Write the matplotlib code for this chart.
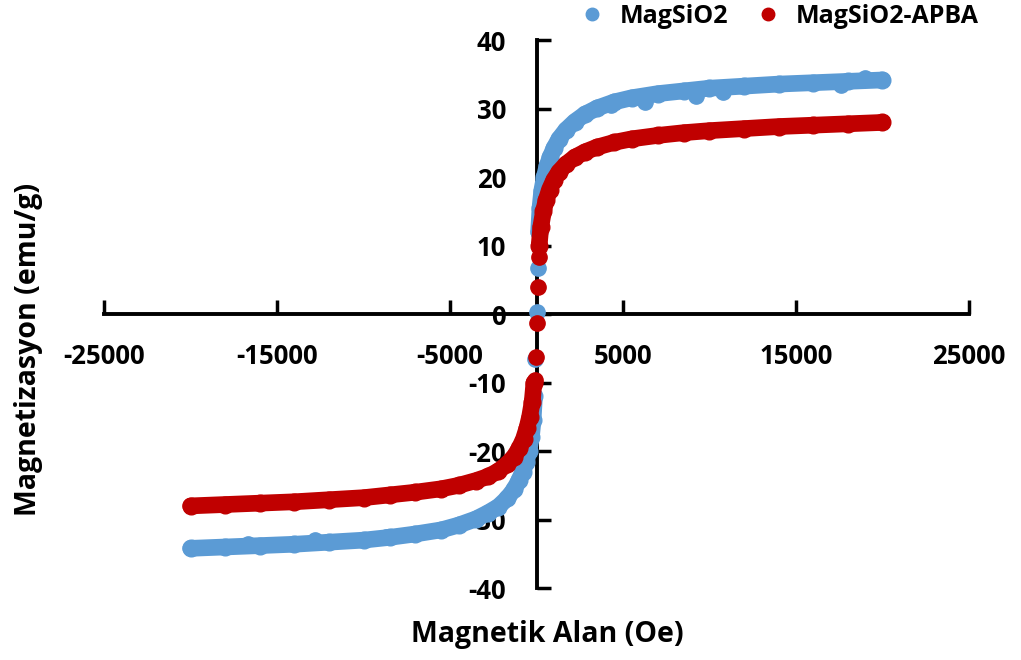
import matplotlib.pyplot as plt
from matplotlib.lines import Line2D

plt.rcParams['font.family'] = ['Open Sans', 'DejaVu Sans']
plt.rcParams['font.weight'] = 'bold'
plt.rcParams['axes.unicode_minus'] = False

# MagSiO2 (blue) - positive field branch
blue_x_pos = [120, 200, 300, 450, 600, 800, 1000, 1300, 1700, 2200, 2800, 3500, 4500,
              5500, 7000, 8500, 10000, 12000, 14000, 16000, 18000, 20000]
blue_y_pos = [12.0, 15.5, 18.0, 20.0, 21.6, 23.0, 24.2, 25.6, 26.9, 28.1, 29.2, 30.1, 31.0,
              31.6, 32.2, 32.6, 33.0, 33.3, 33.6, 33.8, 34.0, 34.2]
# MagSiO2 (blue) - negative field branch
blue_x_neg = [-120, -200, -300, -450, -600, -800, -1000, -1300, -1700, -2200, -2800, -3500, -4500,
              -5500, -7000, -8500, -10000, -12000, -14000, -16000, -18000, -20000]
blue_y_neg = [-12.0, -15.5, -18.0, -20.0, -21.6, -23.0, -24.2, -25.6, -26.9, -28.1, -29.0, -29.9, -30.8,
              -31.5, -32.1, -32.6, -33.0, -33.3, -33.6, -33.8, -34.0, -34.2]
# low field steps and stray points
blue_x_pts = [60, 0, -60, 6300, 9200, 10800, 17600, 19000, 4300, -8700, -12800, -16700]
blue_y_pts = [6.7, 0.3, -6.5, 31.0, 31.9, 32.4, 33.4, 34.5, 30.6, -32.6, -33.0, -33.6]

# MagSiO2-APBA (red) - positive field branch
red_x_pos = [150, 250, 400, 550, 750, 1000, 1300, 1700, 2200, 2800, 3500, 4500, 5500,
             7000, 8500, 10000, 12000, 14000, 16000, 18000, 20000]
red_y_pos = [10.0, 12.8, 15.0, 16.6, 18.2, 19.6, 20.8, 21.9, 22.9, 23.7, 24.4, 25.1, 25.6,
             26.1, 26.5, 26.8, 27.1, 27.4, 27.6, 27.8, 28.0]
# MagSiO2-APBA (red) - negative field branch
red_x_neg = [-150, -250, -400, -550, -750, -1000, -1300, -1700, -2200, -2800, -3500, -4500, -5500,
             -7000, -8500, -10000, -12000, -14000, -16000, -18000, -20000]
red_y_neg = [-10.0, -12.8, -15.0, -16.6, -18.2, -19.6, -20.8, -21.9, -22.9, -23.7, -24.3, -25.0, -25.5,
             -26.0, -26.4, -26.8, -27.1, -27.4, -27.6, -27.8, -28.0]
red_x_pts = [120, 60, 20, -40, -100]
red_y_pts = [8.3, 3.9, -1.3, -6.3, -9.6]

blue = '#5B9BD5'
red = '#C00000'

fig = plt.figure(figsize=(10.21, 6.6), dpi=100)
ax = fig.add_axes([0.102, 0.109, 0.847, 0.830])

# each curve: thick band through the measured points, plus the loose low-field points
for xs, ys, c, z in [(blue_x_pos, blue_y_pos, blue, 2), (blue_x_neg, blue_y_neg, blue, 2),
                     (red_x_pos, red_y_pos, red, 3), (red_x_neg, red_y_neg, red, 3)]:
    ax.plot(xs, ys, '-o', color=c, lw=12, ms=12, solid_capstyle='round',
            solid_joinstyle='round', zorder=z)
ax.plot(blue_x_pts, blue_y_pts, 'o', color=blue, ms=11, zorder=2)
ax.plot(red_x_pts, red_y_pts, 'o', color=red, ms=11, zorder=3)

ax.set_xlim(-25000, 25000)
ax.set_ylim(-40, 40)
ax.spines['left'].set_position(('data', 0))
ax.spines['bottom'].set_position(('data', 0))
ax.spines['right'].set_visible(False)
ax.spines['top'].set_visible(False)
for s in ['left', 'bottom']:
    ax.spines[s].set_linewidth(2.8)
    ax.spines[s].set_zorder(1)

ax.set_xticks([-25000, -15000, -5000, 5000, 15000, 25000])
ax.set_yticks(range(-40, 41, 10))
ax.tick_params(axis='x', direction='in', length=10, width=2.5, pad=21, labelsize=18.5)
ax.tick_params(axis='y', direction='in', length=10, width=2.5, pad=22, labelsize=18.5)
for lab in ax.get_xticklabels() + ax.get_yticklabels():
    lab.set_fontweight('bold')

fig.text(0.028, 0.47, 'Magnetizasyon (emu/g)', rotation=90, ha='center', va='center',
         fontsize=20.5, fontweight='bold')
fig.text(0.536, 0.039, 'Magnetik Alan (Oe)', ha='center', va='center',
         fontsize=20.5, fontweight='bold')

handles = [Line2D([], [], marker='o', ls='none', color=blue, ms=9, label='MagSiO2'),
           Line2D([], [], marker='o', ls='none', color=red, ms=9, label='MagSiO2-APBA')]
fig.legend(handles=handles, loc='center', bbox_to_anchor=(0.757, 0.975), ncol=2,
           frameon=False, handletextpad=0.1, columnspacing=0.6,
           prop={'weight': 'bold', 'size': 18})

fig.savefig('out.png', dpi=100)
